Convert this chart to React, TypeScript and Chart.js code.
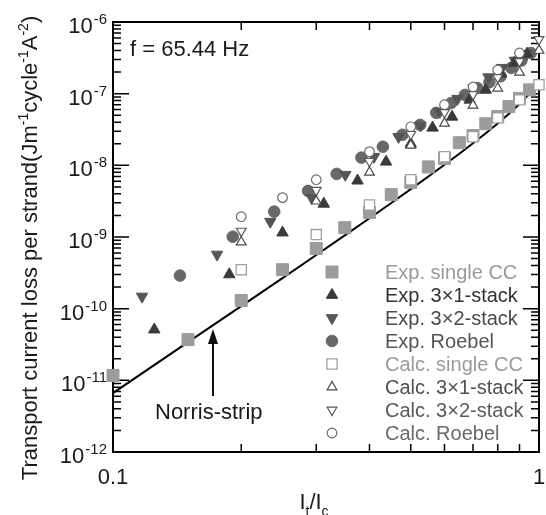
import React, { useEffect, useRef } from 'react';
import { Chart, registerables } from 'chart.js';

Chart.register(...registerables);

// ---- data ----
const norrisX = [0.1, 0.15, 0.2, 0.25, 0.3, 0.35, 0.4, 0.45, 0.5, 0.55, 0.6, 0.65, 0.7, 0.75, 0.8, 0.85, 0.9, 0.95, 1.0];
const norrisY = [6.64e-12, 3.41e-11, 1.084e-10, 2.67e-10, 5.6e-10, 1.053e-9, 1.826e-9, 2.98e-9, 4.65e-9, 6.99e-9, 1.02e-8, 1.454e-8, 2.035e-8, 2.81e-8, 3.845e-8, 5.24e-8, 7.17e-8, 1.0e-7, 1.545e-7];

const expSingleX = [0.1, 0.15, 0.2, 0.25, 0.3, 0.35, 0.4, 0.45, 0.5, 0.55, 0.6, 0.65, 0.7, 0.75, 0.8, 0.85, 0.9, 0.95];
const expSingleY = [1.17e-11, 3.7e-11, 1.3e-10, 3.5e-10, 6.9e-10, 1.35e-9, 2.2e-9, 3.9e-9, 5.8e-9, 9.5e-9, 1.25e-8, 2.07e-8, 2.6e-8, 3.8e-8, 4.8e-8, 6.6e-8, 8.6e-8, 1.13e-7];

const exp3x1X = [0.125, 0.1875, 0.25, 0.3125, 0.375, 0.4375, 0.5, 0.5625, 0.625, 0.6875, 0.75, 0.8125, 0.875, 0.9375];
const exp3x1Y = [5.1e-11, 3.0e-10, 1.15e-9, 2.9e-9, 6.1e-9, 1.12e-8, 2.0e-8, 3.34e-8, 4.75e-8, 8.2e-8, 1.13e-7, 1.9e-7, 2.69e-7, 3.6e-7];

const exp3x2X = [0.117, 0.1755, 0.234, 0.2925, 0.351, 0.41, 0.468, 0.527, 0.585, 0.644, 0.702, 0.761, 0.819, 0.878, 0.936];
const exp3x2Y = [1.48e-10, 5.7e-10, 1.64e-9, 3.54e-9, 7.4e-9, 1.32e-8, 2.5e-8, 3.6e-8, 5.6e-8, 8.5e-8, 1.2e-7, 1.7e-7, 2.3e-7, 2.9e-7, 3.6e-7];

const expRoebelX = [0.1436, 0.191, 0.239, 0.287, 0.335, 0.383, 0.43, 0.478, 0.526, 0.574, 0.622, 0.67, 0.717, 0.765, 0.813, 0.861, 0.909, 0.957];
const expRoebelY = [2.9e-10, 1.01e-9, 2.26e-9, 4.4e-9, 7.6e-9, 1.28e-8, 1.82e-8, 2.67e-8, 3.67e-8, 5.4e-8, 7.4e-8, 9.6e-8, 1.2e-7, 1.45e-7, 1.75e-7, 2.29e-7, 2.9e-7, 3.7e-7];

const calcX = [0.2, 0.3, 0.4, 0.5, 0.6, 0.7, 0.8, 0.9, 1.0];
const calcSingleY = [3.5e-10, 1.08e-9, 2.8e-9, 6.3e-9, 1.32e-8, 2.5e-8, 4.6e-8, 8.2e-8, 1.33e-7];
const calc3x1Y = [8.5e-10, 3.16e-9, 8.0e-9, 1.9e-8, 3.86e-8, 6.87e-8, 1.19e-7, 1.98e-7, 4.01e-7];
const calc3x2Y = [1.21e-9, 4.5e-9, 1.14e-8, 2.71e-8, 5.49e-8, 9.77e-8, 1.69e-7, 2.82e-7, 5.7e-7];
const calcRoebelX = [0.2, 0.25, 0.3, 0.4, 0.5, 0.6, 0.7, 0.8, 0.9];
const calcRoebelY = [1.92e-9, 3.54e-9, 6.3e-9, 1.55e-8, 3.45e-8, 7.0e-8, 1.24e-7, 2.14e-7, 3.7e-7];

const yTickExps = [-12, -11, -10, -9, -8, -7, -6];
const xTickLabels = ['0.1', '1'];
const xTickValues = [0.1, 1];
const xMinorValues = [0.2, 0.3, 0.4, 0.5, 0.6, 0.7, 0.8, 0.9];
const yMinorMult = [2, 3, 4, 5, 6, 7, 8, 9];

const legendLabels = [
  'Exp. single CC', 'Exp. 3×1-stack', 'Exp. 3×2-stack', 'Exp. Roebel',
  'Calc. single CC', 'Calc. 3×1-stack', 'Calc. 3×2-stack', 'Calc. Roebel',
];

// ---- styles ----
const FONT = '"Liberation Sans", Arial, sans-serif';
const pts = (xs: number[], ys: number[]) => xs.map((x, i) => ({ x, y: ys[i] }));

type Style = { shape: 'rect' | 'triangle' | 'circle'; rot: number; r: number; fill: string; stroke: string; lw: number; text: string };
const styles: Style[] = [
  { shape: 'rect', rot: 0, r: 8.5, fill: '#9c9c9c', stroke: '#9c9c9c', lw: 1, text: '#9a9a9a' },
  { shape: 'triangle', rot: 0, r: 6.6, fill: '#3a3a3a', stroke: '#3a3a3a', lw: 1, text: '#333333' },
  { shape: 'triangle', rot: 180, r: 6.6, fill: '#555555', stroke: '#555555', lw: 1, text: '#4a4a4a' },
  { shape: 'circle', rot: 0, r: 5.8, fill: '#686868', stroke: '#686868', lw: 1, text: '#555555' },
  { shape: 'rect', rot: 0, r: 7.2, fill: '#ffffff', stroke: '#a0a0a0', lw: 1.3, text: '#9a9a9a' },
  { shape: 'triangle', rot: 0, r: 5.6, fill: '#ffffff', stroke: '#4a4a4a', lw: 1.2, text: '#505050' },
  { shape: 'triangle', rot: 180, r: 5.6, fill: '#ffffff', stroke: '#5a5a5a', lw: 1.2, text: '#5a5a5a' },
  { shape: 'circle', rot: 0, r: 4.8, fill: '#ffffff', stroke: '#6a6a6a', lw: 1.2, text: '#6a6a6a' },
];
const seriesData = [
  pts(expSingleX, expSingleY), pts(exp3x1X, exp3x1Y), pts(exp3x2X, exp3x2Y), pts(expRoebelX, expRoebelY),
  pts(calcX, calcSingleY), pts(calcX, calc3x1Y), pts(calcX, calc3x2Y), pts(calcRoebelX, calcRoebelY),
];
const drawOrder = [7, 4, 5, 6, 3, 0, 1, 2]; // lower = on top

function marker(ctx: CanvasRenderingContext2D, s: Style, x: number, y: number) {
  ctx.save();
  ctx.beginPath();
  if (s.shape === 'rect') {
    const h = Math.SQRT1_2 * s.r;
    ctx.rect(x - h, y - h, 2 * h, 2 * h);
  } else if (s.shape === 'circle') {
    ctx.arc(x, y, s.r, 0, Math.PI * 2);
  } else {
    let a = (s.rot * Math.PI) / 180;
    ctx.moveTo(x + Math.sin(a) * s.r, y - Math.cos(a) * s.r);
    a += (2 * Math.PI) / 3;
    ctx.lineTo(x + Math.sin(a) * s.r, y - Math.cos(a) * s.r);
    a += (2 * Math.PI) / 3;
    ctx.lineTo(x + Math.sin(a) * s.r, y - Math.cos(a) * s.r);
    ctx.closePath();
  }
  ctx.fillStyle = s.fill;
  ctx.fill();
  ctx.lineWidth = s.lw;
  ctx.strokeStyle = s.stroke;
  ctx.stroke();
  ctx.restore();
}

function drawRich(ctx: CanvasRenderingContext2D, parts: { t: string; k: 'n' | 'sup' | 'sub' }[], x: number, y: number, size: number, measureOnly = false) {
  let cx = x;
  for (const p of parts) {
    const fs = p.k === 'n' ? size : Math.round(size * 0.64);
    ctx.font = `${fs}px ${FONT}`;
    const dy = p.k === 'sup' ? -size * 0.42 : p.k === 'sub' ? size * 0.3 : 0;
    if (!measureOnly) ctx.fillText(p.t, cx, y + dy);
    cx += ctx.measureText(p.t).width;
  }
  return cx - x;
}

const overlay = {
  id: 'overlay',
  beforeDatasetsDraw(chart: any) {
    const { ctx, chartArea: a } = chart;
    const xs = chart.scales.x;
    const ys = chart.scales.y;
    ctx.save();
    ctx.strokeStyle = '#000';
    ctx.lineWidth = 1.5;
    ctx.beginPath();
    for (const v of xMinorValues) {
      const px = xs.getPixelForValue(v);
      ctx.moveTo(px, a.bottom); ctx.lineTo(px, a.bottom - 8);
      ctx.moveTo(px, a.top); ctx.lineTo(px, a.top + 8);
    }
    for (let e = -12; e <= -6; e++) {
      const py = ys.getPixelForValue(Math.pow(10, e));
      ctx.moveTo(a.left, py); ctx.lineTo(a.left + 16, py);
      ctx.moveTo(a.right, py); ctx.lineTo(a.right - 16, py);
      if (e < -6) {
        for (const m of yMinorMult) {
          const pm = ys.getPixelForValue(m * Math.pow(10, e));
          ctx.moveTo(a.left, pm); ctx.lineTo(a.left + 8, pm);
          ctx.moveTo(a.right, pm); ctx.lineTo(a.right - 8, pm);
        }
      }
    }
    ctx.stroke();
    ctx.lineWidth = 2;
    ctx.strokeRect(a.left, a.top, a.right - a.left, a.bottom - a.top);
    ctx.restore();
  },
  afterDatasetsDraw(chart: any) {
    const { ctx, chartArea: a } = chart;
    const xs = chart.scales.x;
    const ys = chart.scales.y;
    ctx.save();
    ctx.fillStyle = '#1a1a1a';
    ctx.textBaseline = 'alphabetic';
    for (const e of yTickExps) {
      const py = ys.getPixelForValue(Math.pow(10, e));
      const sup = String(e);
      ctx.font = `15px ${FONT}`;
      const sw = ctx.measureText(sup).width;
      ctx.font = `22px ${FONT}`;
      const bw = ctx.measureText('10').width;
      const x0 = a.left - 6 - sw - bw - 1;
      ctx.textAlign = 'left';
      ctx.fillText('10', x0, py + 11);
      ctx.font = `15px ${FONT}`;
      ctx.fillText(sup, x0 + bw + 1, py + 2);
    }
    ctx.font = `22px ${FONT}`;
    ctx.textAlign = 'center';
    xTickValues.forEach((v, i) => {
      ctx.fillText(xTickLabels[i], xs.getPixelForValue(v), a.bottom + 32);
    });
    ctx.textAlign = 'left';
    const xt: { t: string; k: 'n' | 'sup' | 'sub' }[] = [
      { t: 'I', k: 'n' }, { t: 't', k: 'sub' }, { t: '/', k: 'n' }, { t: 'I', k: 'n' }, { t: 'c', k: 'sub' },
    ];
    const xw = drawRich(ctx, xt, 0, 0, 22, true);
    drawRich(ctx, xt, 314 - xw / 2, 509, 22);
    const yt: { t: string; k: 'n' | 'sup' | 'sub' }[] = [
      { t: 'Transport current loss per strand(Jm', k: 'n' }, { t: '-1', k: 'sup' },
      { t: 'cycle', k: 'n' }, { t: '-1', k: 'sup' }, { t: 'A', k: 'n' }, { t: '-2', k: 'sup' }, { t: ')', k: 'n' },
    ];
    const yw = drawRich(ctx, yt, 0, 0, 22, true);
    ctx.save();
    ctx.translate(37, 248);
    ctx.rotate(-Math.PI / 2);
    drawRich(ctx, yt, -yw / 2, 0, 22);
    ctx.restore();
    ctx.font = `22px ${FONT}`;
    ctx.fillStyle = '#1a1a1a';
    ctx.fillText('f = 65.44 Hz', 130, 56);
    ctx.fillText('Norris-strip', 155, 419);
    ctx.strokeStyle = '#111';
    ctx.lineWidth = 2;
    ctx.beginPath();
    ctx.moveTo(213, 396);
    ctx.lineTo(213, 340);
    ctx.stroke();
    ctx.beginPath();
    ctx.fillStyle = '#111';
    ctx.moveTo(213, 329);
    ctx.lineTo(208, 344);
    ctx.lineTo(218, 344);
    ctx.closePath();
    ctx.fill();
    legendLabels.forEach((lab, i) => {
      const y = 272 + i * 23;
      marker(ctx, styles[i], 332, y);
      ctx.font = `20px ${FONT}`;
      ctx.fillStyle = styles[i].text;
      ctx.textAlign = 'left';
      ctx.fillText(lab, 385, y + 7);
    });
    ctx.restore();
  },
};

export default function App() {
  const ref = useRef<HTMLCanvasElement | null>(null);
  useEffect(() => {
    if (!ref.current) return;
    const datasets: any[] = styles.map((s, i) => ({
      label: legendLabels[i],
      data: seriesData[i],
      showLine: false,
      pointStyle: s.shape,
      pointRotation: s.rot,
      pointRadius: s.r,
      pointBackgroundColor: s.fill,
      pointBorderColor: s.stroke,
      pointBorderWidth: s.lw,
      clip: false,
      order: drawOrder[i],
    }));
    datasets.push({
      label: 'Norris-strip',
      type: 'line',
      data: pts(norrisX, norrisY),
      borderColor: '#000',
      borderWidth: 2,
      pointRadius: 0,
      fill: false,
      tension: 0,
      order: 20,
    });
    const chart = new Chart(ref.current, {
      type: 'scatter',
      data: { datasets },
      options: {
        animation: false,
        responsive: false,
        devicePixelRatio: 1,
        layout: { autoPadding: false, padding: { left: 113, right: 7, top: 22, bottom: 63 } },
        plugins: { legend: { display: false }, tooltip: { enabled: false } },
        events: [],
        scales: {
          x: { type: 'logarithmic', min: 0.1, max: 1, display: false },
          y: { type: 'logarithmic', min: 1e-12, max: 1e-6, display: false },
        },
      },
      plugins: [overlay],
    });
    return () => chart.destroy();
  }, []);
  return (
    <div style={{ position: 'fixed', left: 0, top: 0, width: 546, height: 515, background: '#fff' }}>
      <canvas ref={ref} width={546} height={515} style={{ width: 546, height: 515, display: 'block' }} />
    </div>
  );
}
